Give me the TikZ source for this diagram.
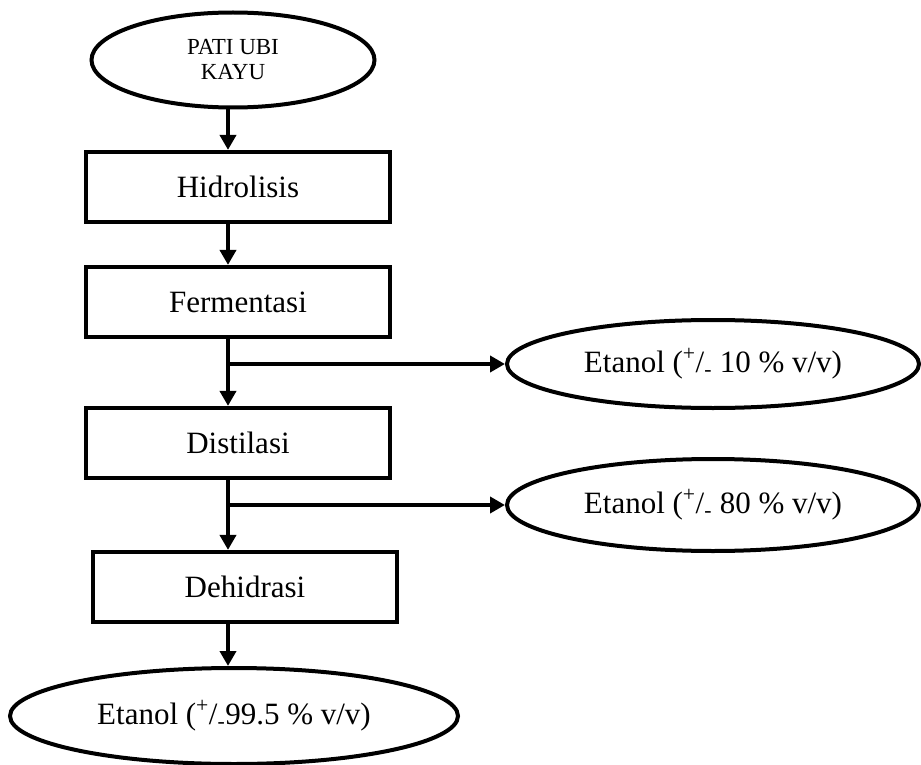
\documentclass[tikz,border=0pt]{standalone}
\usepackage{fontspec}
\setmainfont{Liberation Serif}
\usetikzlibrary{shapes.geometric,arrows.meta}
\begin{document}
\begin{tikzpicture}[x=1pt,y=-1pt,
  proc/.style={draw,line width=4.2pt,minimum width=304pt,minimum height=70pt,inner sep=0pt,font=\fontsize{31}{36}\selectfont},
  term/.style={draw,ellipse,line width=4pt,inner sep=0pt,font=\fontsize{31}{36}\selectfont},
  flow/.style={line width=4pt,-{Triangle[length=15pt,width=16pt]}}
  ]
\useasboundingbox (0,0) rectangle (921,765);
\node[term,minimum width=283pt,minimum height=95pt,align=center,font=\fontsize{23}{25}\selectfont] (pati) at (233,60) {PATI UBI\\KAYU};
\node[proc] (hid) at (238,187) {Hidrolisis};
\node[proc] (fer) at (238,302) {Fermentasi};
\node[proc] (dis) at (238,443) {Distilasi};
\node[proc] (deh) at (245,587) {Dehidrasi};
\node[term,minimum width=412pt,minimum height=88pt] (e10) at (713,364) {Etanol (\raisebox{3pt}{\textsuperscript{+}}/\textsubscript{-} 10 \% v/v)};
\node[term,minimum width=412pt,minimum height=92pt] (e80) at (713,505) {Etanol (\raisebox{3pt}{\textsuperscript{+}}/\textsubscript{-} 80 \% v/v)};
\node[term,minimum width=448pt,minimum height=96pt] (e99) at (234,716) {Etanol (\raisebox{3pt}{\textsuperscript{+}}/\textsubscript{-}99.5 \% v/v)};
\coordinate (sp) at (228,0);
\draw[flow] (pati.south -| sp) -- (hid.north -| sp);
\draw[flow] (hid.south -| sp) -- (fer.north -| sp);
\draw[flow] (fer.south -| sp) -- (dis.north -| sp);
\draw[flow] (dis.south -| sp) -- (deh.north -| sp);
\draw[flow] (deh.south -| sp) -- (e99.north -| sp);
\draw[flow] (e10.west -| sp) -- (e10.west);
\draw[flow] (e80.west -| sp) -- (e80.west);
\end{tikzpicture}
\end{document}
